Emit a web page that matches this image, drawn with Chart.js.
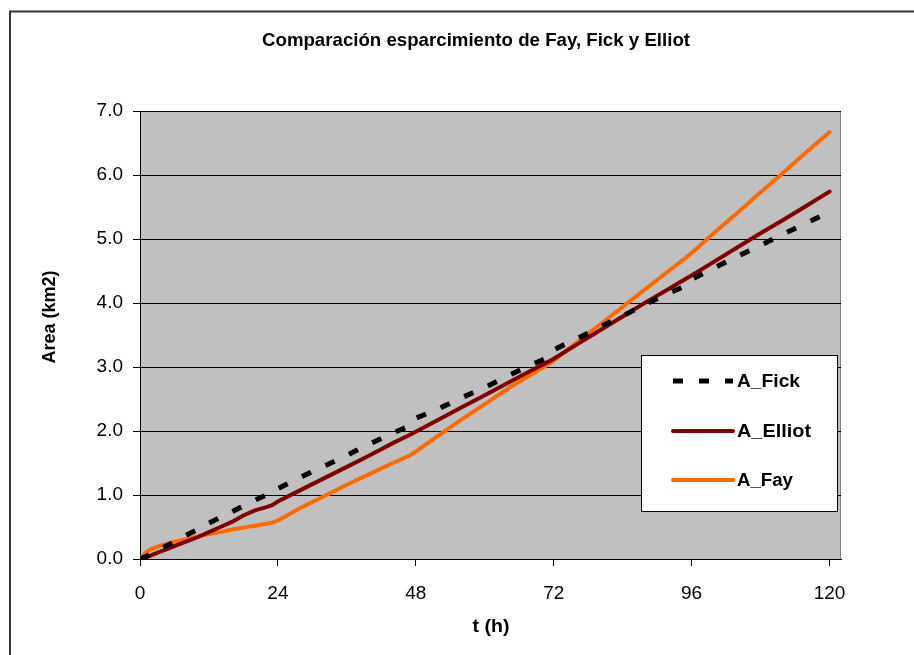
<!DOCTYPE html>
<html>
<head>
<meta charset="utf-8">
<script src="https://cdn.jsdelivr.net/npm/chart.js@4.4.1/dist/chart.umd.min.js"></script>
<style>
  html, body { margin: 0; padding: 0; background: #fff; }
  #wrap { width: 914px; height: 655px; position: relative; }
</style>
</head>
<body>
<div id="wrap"><canvas id="areaChart" width="914" height="655"></canvas></div>
<script>
// hours and areas (km2)
const hours = [0, 1, 2, 4, 6, 8, 10, 12, 14, 16, 18, 20, 22, 23, 24, 28, 32, 36, 40, 44, 47, 48,
  52, 56, 60, 64, 68, 71, 72, 76, 80, 84, 88, 92, 95, 96, 100, 104, 108, 112, 116, 120];

const aFick = [0, 0.04, 0.08, 0.18, 0.27, 0.37, 0.46, 0.56, 0.65, 0.74, 0.83, 0.92, 1.0, 1.03, 1.1,
  1.28, 1.45, 1.62, 1.8, 1.97, 2.08, 2.2, 2.35, 2.52, 2.68, 2.86, 3.03, 3.15, 3.27,
  3.44, 3.62, 3.8, 3.98, 4.15, 4.27, 4.37, 4.55, 4.73, 4.9, 5.08, 5.25, 5.42];

const aElliot = [0, 0.02, 0.06, 0.13, 0.2, 0.27, 0.34, 0.42, 0.5, 0.58, 0.68, 0.76, 0.81, 0.84, 0.9,
  1.08, 1.26, 1.44, 1.62, 1.81, 1.94, 1.99, 2.18, 2.37, 2.56, 2.75, 2.94, 3.08, 3.13,
  3.35, 3.57, 3.79, 4.01, 4.22, 4.38, 4.43, 4.65, 4.87, 5.09, 5.3, 5.52, 5.74];

const aFay = [0, 0.1, 0.16, 0.22, 0.27, 0.31, 0.35, 0.39, 0.42, 0.46, 0.49, 0.52, 0.55, 0.57, 0.6,
  0.8, 0.98, 1.16, 1.33, 1.5, 1.62, 1.68, 1.93, 2.18, 2.42, 2.66, 2.88, 3.04, 3.1,
  3.38, 3.66, 3.94, 4.22, 4.5, 4.71, 4.78, 5.1, 5.41, 5.73, 6.04, 6.36, 6.67];

const xTicks = [0, 24, 48, 72, 96, 120];
const yTicks = [0, 1, 2, 3, 4, 5, 6, 7];

const seriesNames = ["A_Fick", "A_Elliot", "A_Fay"];

const toPoints = vals => hours.map((h, i) => ({ x: h, y: vals[i] }));

const FONT = "'Liberation Sans', Arial, sans-serif";

// draw text squeezed/stretched to a given width (the original text is a bit narrow)
function fitText(ctx, txt, x, y, w) {
  const m = ctx.measureText(txt).width;
  ctx.save();
  ctx.translate(x, y);
  ctx.scale(w / m, 1);
  ctx.fillText(txt, 0, 0);
  ctx.restore();
}

// gray plot area, outer frame, titles and the boxed legend
const decor = {
  id: "decor",
  beforeDraw(chart) {
    const { ctx, chartArea: a } = chart;
    ctx.save();
    ctx.fillStyle = "#fff";
    ctx.fillRect(0, 0, chart.width, chart.height);
    ctx.fillStyle = "#c0c0c0";
    ctx.fillRect(a.left, a.top, a.right - a.left, a.bottom - a.top);
    ctx.strokeStyle = "#808080";
    ctx.lineWidth = 1;
    ctx.strokeRect(a.left + 0.5, a.top + 0.5, a.right - a.left - 1, a.bottom - a.top);
    // outer frame
    ctx.strokeStyle = "#333";
    ctx.lineWidth = 2;
    ctx.beginPath();
    ctx.moveTo(10, chart.height);
    ctx.lineTo(10, 11.5);
    ctx.lineTo(chart.width, 11.5);
    ctx.stroke();
    ctx.restore();
  },
  afterDraw(chart) {
    const { ctx } = chart;
    ctx.save();
    ctx.fillStyle = "#000";
    ctx.textAlign = "center";
    ctx.textBaseline = "middle";
    ctx.font = "bold 19px " + FONT;
    fitText(ctx, "Comparación esparcimiento de Fay, Fick y Elliot", 476, 41, 428);
    ctx.font = "bold 18px " + FONT;
    fitText(ctx, "t (h)", 491, 627, 37);
    ctx.save();
    ctx.translate(50, 317);
    ctx.rotate(-Math.PI / 2);
    ctx.font = "bold 18px " + FONT;
    ctx.fillText("Area (km2)", 0, 0);
    ctx.restore();

    // legend box
    const bx = 641, by = 355, bw = 196, bh = 156;
    ctx.fillStyle = "#fff";
    ctx.fillRect(bx, by, bw, bh);
    ctx.strokeStyle = "#000";
    ctx.lineWidth = 1;
    ctx.strokeRect(bx + 0.5, by + 0.5, bw, bh);
    const rows = [381, 431, 480];
    const widths = [63, 74, 56];
    chart.data.datasets.forEach((ds, i) => {
      const y = rows[i];
      ctx.save();
      ctx.strokeStyle = ds.borderColor;
      ctx.lineWidth = ds.borderWidth;
      ctx.lineCap = ds.borderDash ? "butt" : "round";
      ctx.setLineDash(ds.borderDash || []);
      ctx.beginPath();
      ctx.moveTo(673, y);
      ctx.lineTo(733, y);
      ctx.stroke();
      ctx.restore();
      ctx.fillStyle = "#000";
      ctx.textAlign = "left";
      ctx.font = "bold 18px " + FONT;
      fitText(ctx, ds.label, 737, y + 1, widths[i]);
    });
    ctx.restore();
  }
};

new Chart(document.getElementById("areaChart"), {
  type: "line",
  data: {
    datasets: [
      {
        label: seriesNames[0],
        data: toPoints(aFick),
        borderColor: "#000000",
        borderWidth: 5,
        borderDash: [10, 16],
        pointRadius: 0,
        tension: 0,
        fill: false
      },
      {
        label: seriesNames[1],
        data: toPoints(aElliot),
        borderColor: "#800000",
        borderWidth: 4,
        borderCapStyle: "round",
        pointRadius: 0,
        tension: 0,
        fill: false
      },
      {
        label: seriesNames[2],
        data: toPoints(aFay),
        borderColor: "#ff6a00",
        borderWidth: 4,
        borderCapStyle: "round",
        pointRadius: 0,
        tension: 0,
        fill: false
      }
    ]
  },
  options: {
    responsive: false,
    animation: false,
    layout: { padding: { left: 0, top: 111, right: 73, bottom: 0 } },
    plugins: {
      legend: { display: false },
      title: { display: false },
      tooltip: { enabled: false }
    },
    scales: {
      x: {
        type: "linear",
        min: 0,
        max: 122,
        afterFit: s => { s.height = 96; },
        afterBuildTicks: s => { s.ticks = xTicks.map(v => ({ value: v })); },
        grid: { drawOnChartArea: false, drawTicks: true, tickLength: 7, color: "#000" },
        border: { color: "#000", width: 1 },
        ticks: {
          padding: 16,
          color: "#000",
          maxRotation: 0,
          font: { family: FONT, size: 19 }
        }
      },
      y: {
        min: 0,
        max: 7,
        afterFit: s => { s.width = 140; },
        afterBuildTicks: s => { s.ticks = yTicks.map(v => ({ value: v })); },
        grid: { color: "#000", tickLength: 7, lineWidth: 1 },
        border: { color: "#000", width: 1 },
        ticks: {
          padding: 10,
          color: "#000",
          callback: v => v.toFixed(1),
          font: { family: FONT, size: 19 }
        }
      }
    }
  },
  plugins: [decor]
});
</script>
</body>
</html>
